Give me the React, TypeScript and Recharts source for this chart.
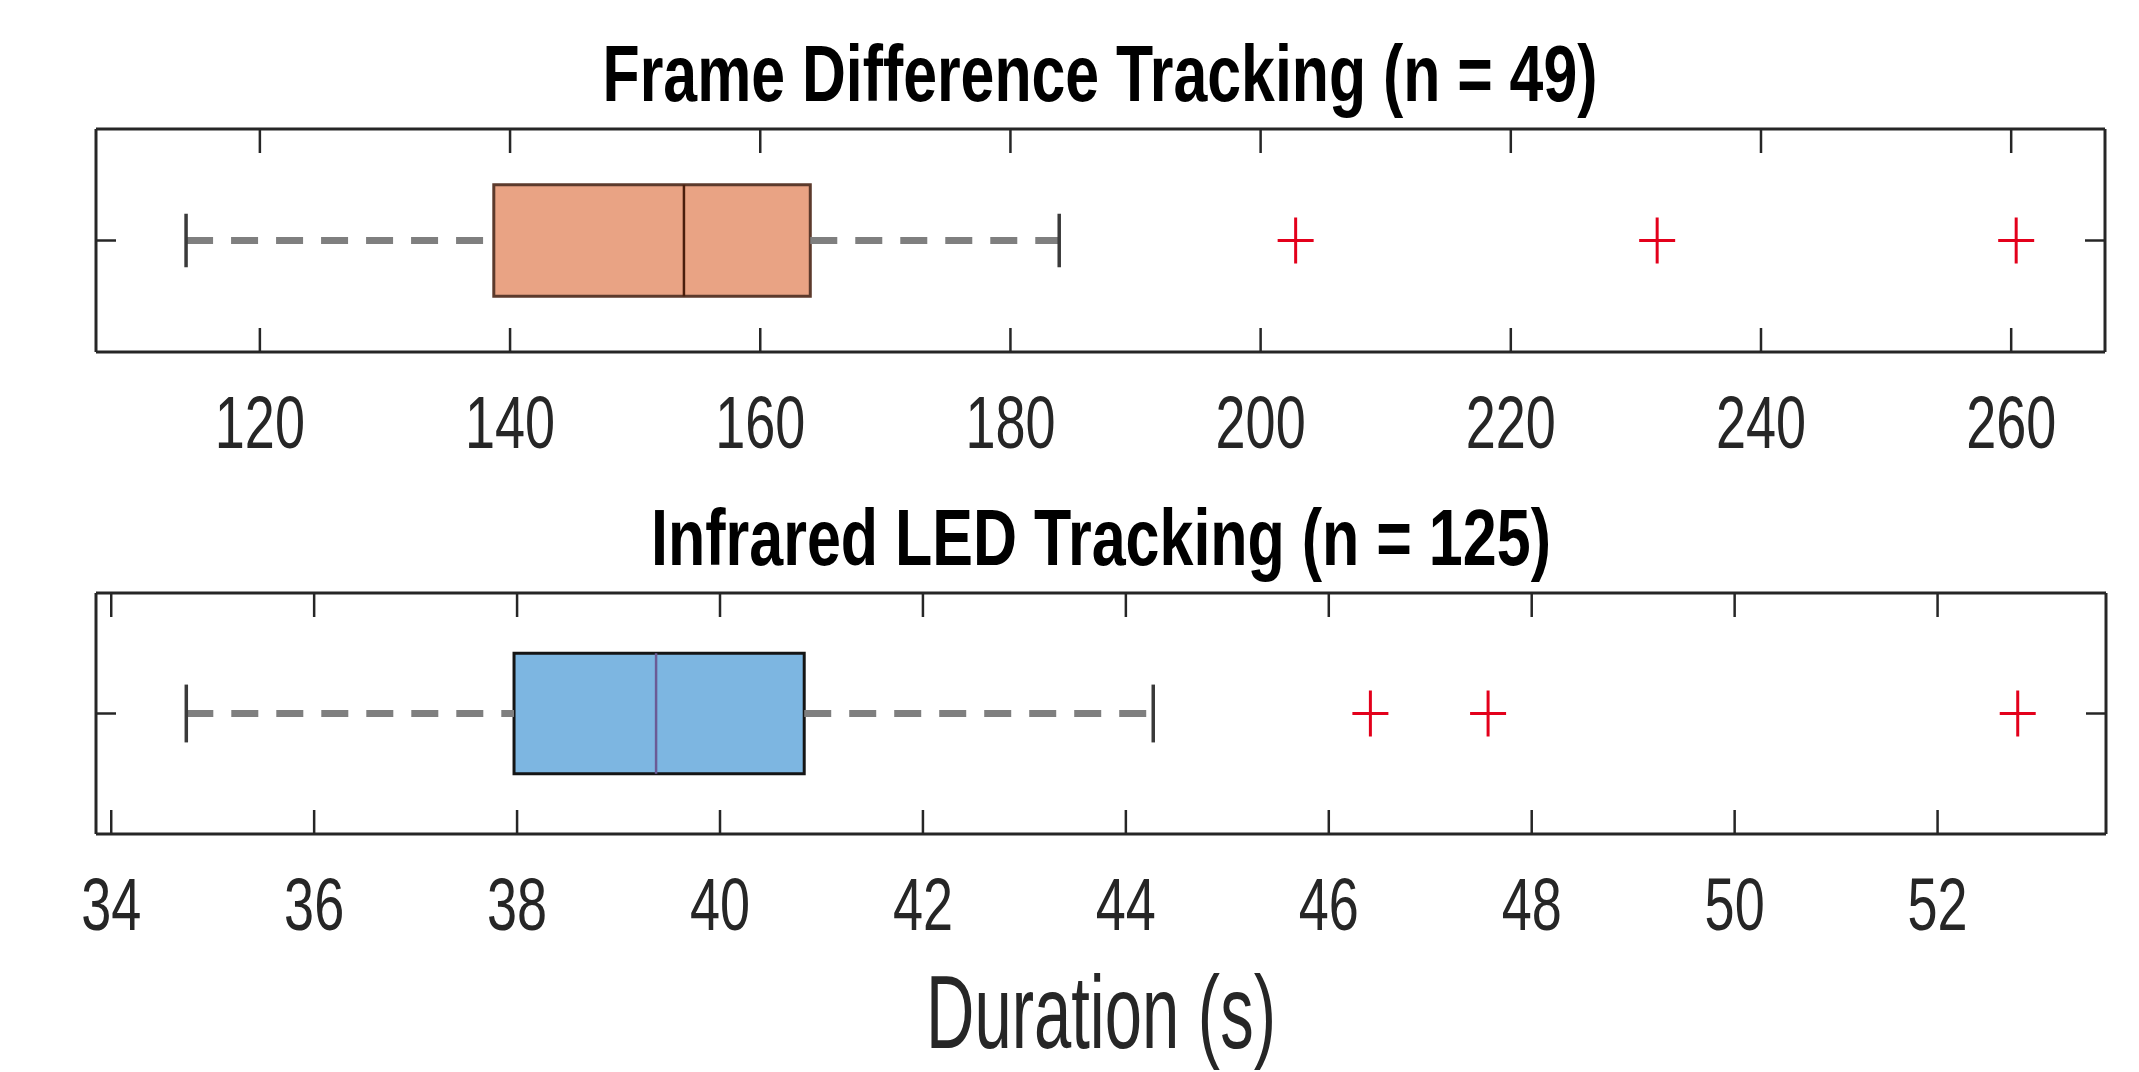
import { ComposedChart, XAxis, YAxis, ReferenceArea, ReferenceLine, Scatter } from 'recharts'

// five-number summaries: min whisker, q1, median, q3, max whisker
const frameBox = [114.1, 138.7, 153.9, 164.0, 183.9]
const frameOutliers = [202.8, 231.7, 260.4]
const frameTicks = [120, 140, 160, 180, 200, 220, 240, 260]
const frameDomain = [106.9, 267.5]

const irBox = [34.74, 37.97, 39.37, 40.83, 44.27]
const irOutliers = [46.41, 47.57, 52.79]
const irTicks = [34, 36, 38, 40, 42, 44, 46, 48, 50, 52]
const irDomain = [33.85, 53.66]

const titles = ['Frame Difference Tracking (n = 49)', 'Infrared LED Tracking (n = 125)']
const xLabel = 'Duration (s)'

const W = 2139
const H = 1072
const FONT = "'Liberation Sans', Arial, Helvetica, sans-serif"
const AXIS = '#262626'
const TICK_LEN = 24

// bottom tick also draws its twin on the top edge (span = plot height)
const BottomTick = ({ x, y, payload, span }: any) => (
  <g>
    <line x1={x} x2={x} y1={y} y2={y - TICK_LEN} stroke={AXIS} strokeWidth={2.5} />
    <line x1={x} x2={x} y1={y - span} y2={y - span + TICK_LEN} stroke={AXIS} strokeWidth={2.5} />
    <g transform={`translate(${x},${y + 96}) scale(1,1.37)`}>
      <text x={0} y={0} textAnchor="middle" fontSize={54} fill={AXIS} fontFamily={FONT}>
        {payload.value}
      </text>
    </g>
  </g>
)

// left tick also draws its twin on the right edge (span = plot width)
const LeftTick = ({ x, y, span }: any) => (
  <g stroke={AXIS} strokeWidth={2.5}>
    <line x1={x} x2={x + 20} y1={y} y2={y} />
    <line x1={x + span} x2={x + span - 20} y1={y} y2={y} />
  </g>
)

const Plus = ({ cx, cy }: any) => (
  <g stroke="#e3001b" strokeWidth={3}>
    <line x1={cx - 18} x2={cx + 18} y1={cy} y2={cy} />
    <line x1={cx} x2={cx} y1={cy - 23} y2={cy + 23} />
  </g>
)

interface PanelProps {
  box: number[]
  outliers: number[]
  ticks: number[]
  domain: number[]
  fill: string
  edge: string
  medianColor: string
  top: number
  height: number
  margin: { top: number; right: number; bottom: number; left: number }
}

// axes are 1px thick so that recharts still draws them; margins leave room for that pixel
function BoxPanel({ box, outliers, ticks, domain, fill, edge, medianColor, top, height, margin }: PanelProps) {
  const [lo, q1, med, q3, hi] = box
  const pts = outliers.map((v) => ({ x: v, y: 1 }))
  const cap = 0.12
  const m = { top: margin.top - 1, right: margin.right - 1, bottom: margin.bottom - 1, left: margin.left - 1 }
  const plotH = height - margin.top - margin.bottom
  const plotW = W - margin.left - margin.right
  return (
    <div style={{ position: 'absolute', left: 0, top }}>
      <ComposedChart width={W} height={height} margin={m}>
        <XAxis type="number" dataKey="x" domain={domain} ticks={ticks} interval={0} allowDataOverflow
          height={1} tickSize={0} tickMargin={0} tickLine={false} tick={<BottomTick span={plotH} />}
          axisLine={{ stroke: AXIS, strokeWidth: 3 }} />
        <XAxis xAxisId="top" orientation="top" type="number" domain={domain} allowDataOverflow
          height={1} tick={false} tickLine={false} axisLine={{ stroke: AXIS, strokeWidth: 3 }} />
        <YAxis type="number" dataKey="y" domain={[0.5, 1.5]} ticks={[1]} width={1} tickSize={0} tickMargin={0}
          tickLine={false} tick={<LeftTick span={plotW} />} axisLine={{ stroke: AXIS, strokeWidth: 3 }} />
        <YAxis yAxisId="right" orientation="right" type="number" domain={[0.5, 1.5]} width={1}
          tick={false} tickLine={false} axisLine={{ stroke: AXIS, strokeWidth: 3 }} />

        <ReferenceLine segment={[{ x: lo, y: 1 }, { x: q1, y: 1 }]} stroke="#7f7f7f" strokeWidth={7} strokeDasharray="27 18" />
        <ReferenceLine segment={[{ x: q3, y: 1 }, { x: hi, y: 1 }]} stroke="#7f7f7f" strokeWidth={7} strokeDasharray="27 18" />
        <ReferenceLine segment={[{ x: lo, y: 1 - cap }, { x: lo, y: 1 + cap }]} stroke="#3a3a3a" strokeWidth={3.5} />
        <ReferenceLine segment={[{ x: hi, y: 1 - cap }, { x: hi, y: 1 + cap }]} stroke="#3a3a3a" strokeWidth={3.5} />
        <ReferenceArea x1={q1} x2={q3} y1={0.75} y2={1.25} fill={fill} fillOpacity={1} stroke={edge} strokeWidth={3} />
        <ReferenceLine segment={[{ x: med, y: 0.75 }, { x: med, y: 1.25 }]} stroke={medianColor} strokeWidth={2.5} />
        <Scatter data={pts} dataKey="y" shape={<Plus />} isAnimationActive={false} />
      </ComposedChart>
    </div>
  )
}

export default function App() {
  return (
    <div style={{ position: 'absolute', left: 0, top: 0, width: W, height: H, background: '#fff', overflow: 'hidden' }}>
      <BoxPanel box={frameBox} outliers={frameOutliers} ticks={frameTicks} domain={frameDomain}
        fill="#e9a384" edge="#5c3a2c" medianColor="#4a1e0c"
        top={0} height={480} margin={{ top: 129, right: 34, bottom: 128, left: 96 }} />
      <BoxPanel box={irBox} outliers={irOutliers} ticks={irTicks} domain={irDomain}
        fill="#7db6e1" edge="#151515" medianColor="#6b5b95"
        top={480} height={592} margin={{ top: 113, right: 33, bottom: 238, left: 96 }} />
      <svg width={W} height={H} style={{ position: 'absolute', left: 0, top: 0, pointerEvents: 'none' }}>
        <g transform="translate(1100,101) scale(1,1.3)">
          <text textAnchor="middle" fontSize={60.8} fontWeight="bold" fill="#000" fontFamily={FONT}>{titles[0]}</text>
        </g>
        <g transform="translate(1101,565) scale(1,1.3)">
          <text textAnchor="middle" fontSize={61} fontWeight="bold" fill="#000" fontFamily={FONT}>{titles[1]}</text>
        </g>
        <g transform="translate(1101,1048) scale(1,1.55)">
          <text textAnchor="middle" fontSize={67} fill={AXIS} fontFamily={FONT}>{xLabel}</text>
        </g>
      </svg>
    </div>
  )
}
